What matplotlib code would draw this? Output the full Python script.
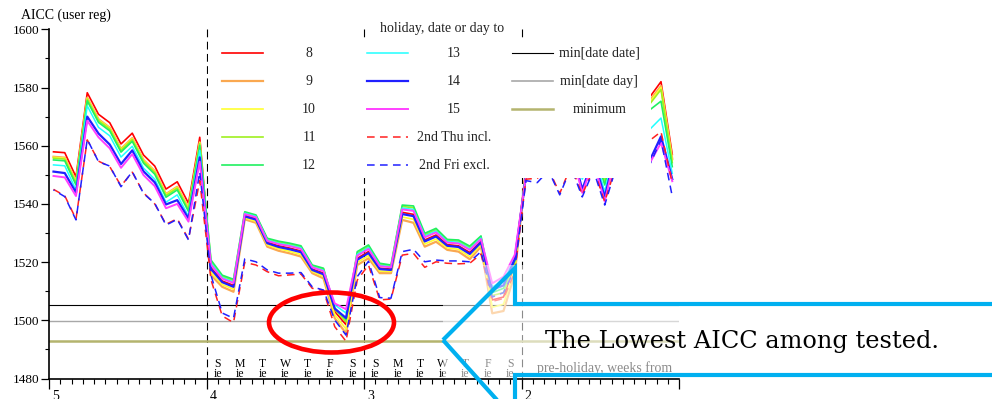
import numpy as np
import matplotlib
matplotlib.use("Agg")
import matplotlib.pyplot as plt
import matplotlib.transforms as mtransforms
from matplotlib.patches import Rectangle, Ellipse, Polygon
from matplotlib.ticker import MultipleLocator, FixedLocator

plt.rcParams['font.family'] = ['Liberation Serif', 'DejaVu Serif']

# AICC per half-day step, from 5 weeks down to 1 week before the holiday
aicc_8 = [1557.9, 1557.6, 1549.3, 1578.2, 1570.8, 1567.9, 1560.6, 1564.3, 1556.8, 1553.0, 1545.1, 1547.6, 1540.2, 1562.9,
          1518.1, 1513.5, 1512.0, 1536.0, 1534.9, 1526.8, 1525.6, 1524.8, 1523.8, 1517.6, 1516.2, 1503.0, 1498.5, 1521.3, 1523.6,
          1517.9, 1517.6, 1537.1, 1536.4, 1527.6, 1529.3, 1526.0, 1525.6, 1523.3, 1527.2, 1507.0, 1508.0, 1519.0,
          1552.5, 1560.0, 1563.0, 1558.0, 1566.0, 1555.0, 1562.0, 1551.5, 1565.0, 1568.0, 1571.0, 1576.7, 1582.0, 1557.0]
aicc_9 = [1556.2, 1555.9, 1547.6, 1576.5, 1569.1, 1566.2, 1558.9, 1562.6, 1555.1, 1551.3, 1543.4, 1545.9, 1538.5, 1561.2,
          1515.5, 1511.5, 1509.8, 1534.7, 1533.5, 1525.3, 1523.9, 1523.0, 1521.9, 1516.2, 1514.4, 1500.7, 1495.5, 1519.0, 1521.3,
          1516.2, 1516.2, 1534.5, 1533.5, 1525.3, 1527.0, 1524.2, 1523.6, 1521.0, 1525.3, 1502.4, 1503.2, 1516.0,
          1551.5, 1558.5, 1561.5, 1556.5, 1564.5, 1553.0, 1560.5, 1549.8, 1563.5, 1566.5, 1569.5, 1575.5, 1580.5, 1555.5]
aicc_10 = [1556.0, 1555.7, 1547.4, 1576.3, 1568.9, 1566.0, 1558.7, 1562.4, 1554.9, 1551.1, 1543.2, 1545.7, 1538.3, 1561.0,
           1516.5, 1512.3, 1510.7, 1535.2, 1534.0, 1525.9, 1524.6, 1523.7, 1522.6, 1516.8, 1515.1, 1502.0, 1497.0, 1519.9, 1522.2,
           1516.9, 1516.8, 1535.5, 1534.7, 1526.2, 1527.9, 1524.9, 1524.4, 1521.9, 1526.0, 1504.5, 1505.5, 1517.5,
           1551.3, 1558.3, 1561.3, 1556.3, 1564.3, 1552.5, 1560.3, 1548.6, 1563.3, 1566.3, 1569.3, 1575.0, 1580.0, 1555.0]
aicc_11 = [1555.7, 1555.4, 1547.1, 1576.0, 1568.6, 1565.7, 1558.4, 1562.1, 1554.6, 1550.8, 1542.9, 1545.4, 1538.0, 1560.7,
           1520.2, 1515.1, 1513.7, 1537.0, 1535.9, 1527.9, 1526.9, 1526.2, 1525.2, 1518.7, 1517.6, 1503.8, 1499.5, 1523.1, 1525.4,
           1519.3, 1518.7, 1539.1, 1538.7, 1529.4, 1531.1, 1527.4, 1527.2, 1525.1, 1528.6, 1508.5, 1509.5, 1520.0,
           1551.0, 1558.0, 1561.0, 1556.0, 1564.0, 1551.5, 1560.0, 1547.8, 1563.0, 1566.0, 1569.0, 1574.3, 1579.3, 1554.2]
aicc_12 = [1555.1, 1554.8, 1546.5, 1575.4, 1568.0, 1565.1, 1557.8, 1561.5, 1554.0, 1550.2, 1542.3, 1544.8, 1537.4, 1560.1,
           1520.7, 1515.5, 1514.1, 1537.3, 1536.2, 1528.2, 1527.2, 1526.5, 1525.6, 1519.0, 1517.9, 1504.2, 1500.3, 1523.6, 1525.9,
           1519.6, 1519.0, 1539.6, 1539.3, 1529.9, 1531.6, 1527.8, 1527.6, 1525.5, 1529.0, 1509.5, 1511.0, 1520.5,
           1550.5, 1557.4, 1560.3, 1555.3, 1563.3, 1550.2, 1559.3, 1546.5, 1562.3, 1565.3, 1568.3, 1572.3, 1575.3, 1552.8]
aicc_13 = [1553.4, 1553.1, 1544.8, 1573.7, 1566.3, 1563.4, 1556.1, 1559.8, 1552.3, 1548.5, 1540.6, 1543.1, 1535.7, 1558.4,
           1519.7, 1514.7, 1513.2, 1536.8, 1535.7, 1527.6, 1526.5, 1525.8, 1524.9, 1518.4, 1517.2, 1505.3, 1502.5, 1522.7, 1525.0,
           1518.9, 1518.4, 1538.6, 1538.1, 1529.0, 1530.7, 1527.1, 1526.8, 1524.6, 1528.3, 1511.5, 1513.5, 1521.5,
           1550.2, 1556.0, 1558.5, 1553.5, 1561.5, 1548.5, 1557.5, 1544.2, 1560.5, 1563.5, 1566.0, 1565.6, 1569.5, 1550.5]
aicc_14 = [1551.1, 1550.6, 1543.9, 1570.0, 1564.2, 1560.4, 1553.7, 1558.4, 1551.2, 1547.4, 1539.8, 1541.3, 1535.0, 1556.0,
           1517.6, 1513.1, 1511.5, 1535.7, 1534.6, 1526.5, 1525.2, 1524.4, 1523.4, 1517.3, 1515.8, 1504.0, 1500.8, 1520.8, 1523.1,
           1517.6, 1517.3, 1536.5, 1535.8, 1527.1, 1528.8, 1525.6, 1525.2, 1522.8, 1526.8, 1510.5, 1512.0, 1521.0,
           1549.8, 1554.0, 1556.5, 1551.5, 1559.5, 1545.0, 1555.5, 1542.4, 1558.5, 1561.5, 1562.0, 1554.9, 1563.2, 1548.5]
aicc_15 = [1549.6, 1549.1, 1542.7, 1568.6, 1562.9, 1559.1, 1552.4, 1557.1, 1549.9, 1546.1, 1538.5, 1540.0, 1533.9, 1554.5,
           1519.1, 1514.3, 1512.8, 1536.5, 1535.4, 1527.3, 1526.2, 1525.5, 1524.5, 1518.2, 1516.9, 1505.8, 1503.8, 1522.2, 1524.5,
           1518.6, 1518.2, 1538.1, 1537.6, 1528.5, 1530.2, 1526.7, 1526.4, 1524.2, 1527.9, 1512.7, 1515.0, 1522.5,
           1549.6, 1553.0, 1555.5, 1550.5, 1558.5, 1543.8, 1554.5, 1540.8, 1557.5, 1560.5, 1561.0, 1554.0, 1561.0, 1547.8]
aicc_thu_incl = [1545.0, 1542.8, 1534.8, 1562.0, 1554.7, 1552.8, 1546.2, 1550.9, 1543.8, 1540.0, 1533.0, 1534.9, 1527.9, 1548.0,
                 1513.9, 1501.5, 1499.2, 1519.9, 1519.0, 1516.7, 1515.3, 1515.6, 1515.9, 1511.0, 1510.2, 1497.8, 1492.8, 1513.8, 1519.0,
                 1507.0, 1507.3, 1522.4, 1523.0, 1518.2, 1520.1, 1519.6, 1519.4, 1519.6, 1522.8, 1506.5, 1507.5, 1516.5,
                 1548.5, 1548.8, 1552.0, 1543.6, 1553.0, 1543.2, 1552.0, 1540.8, 1553.0, 1556.0, 1559.0, 1561.8, 1564.8, 1547.2]
aicc_fri_excl = [1544.8, 1542.5, 1534.5, 1562.2, 1554.5, 1553.0, 1545.9, 1551.1, 1543.6, 1540.2, 1532.7, 1534.7, 1527.6, 1551.0,
                 1515.5, 1502.5, 1500.7, 1521.1, 1520.1, 1517.3, 1516.2, 1516.2, 1516.4, 1511.5, 1510.4, 1500.1, 1494.9, 1515.0, 1520.3,
                 1507.8, 1507.6, 1523.6, 1524.4, 1520.1, 1520.7, 1520.4, 1520.4, 1520.1, 1523.6, 1508.0, 1509.5, 1517.5,
                 1548.0, 1547.3, 1551.5, 1543.1, 1552.5, 1542.4, 1551.5, 1539.6, 1552.5, 1555.0, 1557.0, 1553.5, 1562.0, 1542.6]

min_date_date = 1505.1
min_date_day = 1499.7
minimum = 1492.8

series_labels = ["8", "9", "10", "11", "12", "13", "14", "15"]
day_letters = ["S", "M", "T", "W", "T", "F", "S"]
week_ticks = [5, 4, 3, 2, 1]
week_labels = ["5", "4", "3", "2", ""]

# half-day steps converted to "weeks before" on the x axis
half_day = np.arange(len(aicc_8))
weeks = 5 - (half_day / 2 + 0.2) / 7

solid_series = [aicc_8, aicc_9, aicc_10, aicc_11, aicc_12, aicc_13, aicc_14, aicc_15]
solid_colors = ["#FF0000", "#FAA850", "#FFFF30", "#A0F020", "#20F060", "#20FFFF", "#2020FF", "#FF40FF"]
solid_widths = [1.2, 1.6, 1.2, 1.2, 1.2, 1.1, 1.6, 1.4]
dash_red = (0, (5, 3.5))
dash_blue = (4.2, (5, 3.5))

fig = plt.figure(figsize=(9.92, 3.99), dpi=100)
ax = fig.add_axes([49 / 992, 1 - 378.5 / 399, 630 / 992, 349.2 / 399])

for vals, c, lw in zip(solid_series, solid_colors, solid_widths):
    ax.plot(weeks, vals, color=c, lw=lw, zorder=2)
ax.plot(weeks, aicc_thu_incl, color="#FF2020", lw=1.1, ls=dash_red, zorder=2)
ax.plot(weeks, aicc_fri_excl, color="#2020FF", lw=1.1, ls=dash_blue, zorder=2)

ax.axhline(min_date_date, color="black", lw=0.8, zorder=1.8)
ax.axhline(min_date_day, color="#A8A8A8", lw=1.0, zorder=1.8)
ax.axhline(minimum, color="#B4B46E", lw=1.8, zorder=1.8)

for w in [4, 3, 2]:
    ax.axvline(w, color="black", lw=0.8, ls=(0, (7, 4)), zorder=1.5)

ax.set_xlim(5, 1)
ax.set_ylim(1480, 1600)
ax.xaxis.set_major_locator(FixedLocator(week_ticks))
ax.set_xticklabels(week_labels)
ax.xaxis.set_minor_locator(MultipleLocator(1 / 14))
ax.yaxis.set_major_locator(MultipleLocator(20))
ax.yaxis.set_minor_locator(MultipleLocator(10))
ax.tick_params(axis="x", which="major", direction="out", length=7, width=0.9, pad=1, labelsize=10)
ax.tick_params(axis="x", which="minor", direction="out", length=3.6, width=0.8)
ax.tick_params(axis="y", which="major", direction="out", length=5.8, width=0.9, pad=1, labelsize=9.5)
ax.tick_params(axis="y", which="minor", direction="out", length=2.9, width=0.8)
for s in ["top", "right"]:
    ax.spines[s].set_visible(False)
for s in ["left", "bottom"]:
    ax.spines[s].set_linewidth(1.2)

shift = mtransforms.ScaledTranslation(3 / 100, 0, fig.dpi_scale_trans)
for lbl in ax.get_xticklabels():
    lbl.set_ha("left")
    lbl.set_transform(lbl.get_transform() + shift)

# weekday letters under the two full weeks
blend = mtransforms.blended_transform_factory(ax.transData, ax.transAxes)
for w in [4, 3]:
    for i, d in enumerate(day_letters):
        x = w - (i + 0.5) / 7
        ax.text(x, 0.034, d, transform=blend, ha="center", va="baseline", fontsize=8.5, zorder=2.2)
        ax.text(x, 0.004, "ie", transform=blend, ha="center", va="baseline", fontsize=8.5, zorder=2.2)

ax.text(0.7746, 0.0195, "pre-holiday, weeks from", transform=ax.transAxes, fontsize=10,
        va="baseline", ha="left", zorder=2.2)

# washed-out area behind the callout
ax.add_patch(Rectangle((0.6254, 0), 0.3746, 0.325, transform=ax.transAxes, facecolor="white",
                       edgecolor="none", alpha=0.55, zorder=2.3))

# legend panel
ax.add_patch(Rectangle((0.2524, 0.5739), 0.7032, 0.4009, transform=ax.transAxes, facecolor="white",
                       edgecolor="none", zorder=4, clip_on=False))
rows = [0.9313, 0.8511, 0.7709, 0.6907, 0.6105]
col1 = (0.2741, 0.3402, 0.4127)
col2 = (0.5043, 0.5703, 0.6429)
col3 = (0.7344, 0.8005, 0.8735)
entries = []
for i in range(5):
    entries.append((col1, rows[i], solid_colors[i], solid_widths[i], "-", series_labels[i]))
for i in range(3):
    entries.append((col2, rows[i], solid_colors[5 + i], solid_widths[5 + i], "-", series_labels[5 + i]))
entries.append((col2, rows[3], "#FF2020", 1.1, (0, (5, 3.5)), "2nd Thu incl."))
entries.append((col2, rows[4], "#2020FF", 1.1, (0, (5, 3.5)), "2nd Fri excl."))
entries.append((col3, rows[0], "black", 0.8, "-", "min[date date]"))
entries.append((col3, rows[1], "#A8A8A8", 1.2, "-", "min[date day]"))
entries.append((col3, rows[2], "#B4B46E", 1.8, "-", "minimum"))
for (x0, x1, xc), y, c, lw, ls, lab in entries:
    ax.plot([x0, x1], [y, y], transform=ax.transAxes, color=c, lw=lw, ls=ls, zorder=5, clip_on=False)
    ax.text(xc, y, lab, transform=ax.transAxes, ha="center", va="center", fontsize=10,
            color="#222222", zorder=5)
ax.text(0.6246, 0.9931, "holiday, date or day to", transform=ax.transAxes, ha="center",
        va="baseline", fontsize=10, color="#222222", zorder=5)

ax.add_patch(Ellipse((0.4484, 0.1604), 0.1984, 0.1718, transform=ax.transAxes, fill=False,
                     edgecolor="#FF0000", lw=3.3, zorder=6, clip_on=False))

fig.text(20.7 / 992, 1 - 19 / 399, "AICC (user reg)", fontsize=10, va="baseline", ha="left")

# callout arrow pointing at the lowest value
pts = [(443, 340), (515, 268), (515, 304), (1010, 304), (1010, 375), (515, 375), (515, 420)]
callout = Polygon([(x / 992, 1 - y / 399) for x, y in pts], closed=True, fill=False,
                  edgecolor="#00B0F0", lw=3, joinstyle="miter", transform=fig.transFigure)
fig.add_artist(callout)
fig.text(545 / 992, 1 - 348.3 / 399, "The Lowest AICC among tested.", fontfamily="DejaVu Serif",
         fontsize=17.3, va="baseline", ha="left")

fig.savefig("out.png", dpi=100)
